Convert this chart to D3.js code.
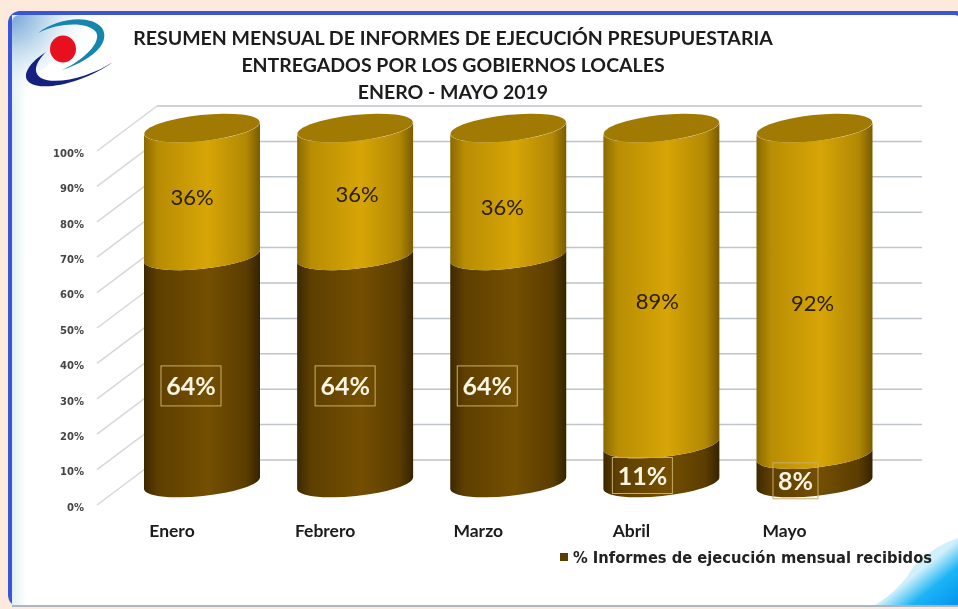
<!DOCTYPE html>
<html>
<head>
<meta charset="utf-8">
<script src="https://cdnjs.cloudflare.com/ajax/libs/d3/7.8.5/d3.min.js"></script>
<style>
html, body { margin: 0; padding: 0; background: #fdeadd; }
text { font-family: Lato, "Open Sans", sans-serif; }
svg { filter: blur(0.55px); }
</style>
</head>
<body>
<div id="chart"></div>
<script>
var titleLines = ["RESUMEN MENSUAL DE INFORMES DE EJECUCIÓN PRESUPUESTARIA",
                  "ENTREGADOS POR LOS GOBIERNOS LOCALES",
                  "ENERO - MAYO 2019"]
var months = ["Enero", "Febrero", "Marzo", "Abril", "Mayo"]
var received = [64, 64, 64, 11, 8]
var pending = [36, 36, 36, 89, 92]
var yTicks = [0, 10, 20, 30, 40, 50, 60, 70, 80, 90, 100]
var legendLabel = "% Informes de ejecución mensual recibidos"

var width = 958, height = 609

var svg = d3.select("#chart").append("svg")
  .attr("width", width)
  .attr("height", height)
  .style("display", "block")

var defs = svg.append("defs")

function cylGradient(id, edge, mid, edge2) {
  var g = defs.append("linearGradient").attr("id", id)
  g.append("stop").attr("offset", "0%").attr("stop-color", edge)
  g.append("stop").attr("offset", "12%").attr("stop-color", d3.interpolateRgb(edge, mid)(0.6))
  g.append("stop").attr("offset", "55%").attr("stop-color", mid)
  g.append("stop").attr("offset", "88%").attr("stop-color", d3.interpolateRgb(edge2, mid)(0.6))
  g.append("stop").attr("offset", "100%").attr("stop-color", edge2)
}
cylGradient("upper", "#8a6a00", "#d7a506", "#7a5c00")
cylGradient("lower", "#3c2800", "#744f02", "#352300")

var tl = defs.append("radialGradient").attr("id", "cornerTL")
  .attr("gradientUnits", "userSpaceOnUse").attr("cx", 8).attr("cy", 12).attr("r", 90)
tl.append("stop").attr("offset", "0%").attr("stop-color", "#6f9fd8")
tl.append("stop").attr("offset", "45%").attr("stop-color", "#c4dcee")
tl.append("stop").attr("offset", "100%").attr("stop-color", "#ffffff").attr("stop-opacity", 0)

var br = defs.append("linearGradient").attr("id", "cornerBR")
  .attr("gradientUnits", "userSpaceOnUse")
  .attr("x1", 958).attr("y1", 609).attr("x2", 924).attr("y2", 567)
br.append("stop").attr("offset", "0%").attr("stop-color", "#0090ee")
br.append("stop").attr("offset", "60%").attr("stop-color", "#1cb4f5")
br.append("stop").attr("offset", "100%").attr("stop-color", "#d0f0fb")

var left = defs.append("linearGradient").attr("id", "leftEdge")
left.append("stop").attr("offset", "0%").attr("stop-color", "#dff0f2")
left.append("stop").attr("offset", "100%").attr("stop-color", "#ffffff")

// panel
svg.append("rect").attr("x", 8).attr("y", 11).attr("width", 960).attr("height", 596)
  .attr("rx", 12).attr("fill", "#3a55d6")
svg.append("rect").attr("x", 12).attr("y", 15).attr("width", 950).attr("height", 590)
  .attr("rx", 8).attr("fill", "#ffffff")
svg.append("rect").attr("x", 12).attr("y", 15).attr("width", 14).attr("height", 590)
  .attr("fill", "url(#leftEdge)")
svg.append("path").attr("d", "M12 105V23Q12 15 20 15H100V40Q50 50 12 105Z")
  .attr("fill", "url(#cornerTL)")
svg.append("path").attr("d", "M958 538V605H875Q900 590 915 565Q935 545 958 538Z")
  .attr("fill", "url(#cornerBR)")
svg.append("rect").attr("x", 12).attr("y", 605).attr("width", 946).attr("height", 2).attr("fill", "#aeb4bd")

// logo
var logo = svg.append("g")
logo.append("path")
  .attr("d", "M38 33C58 18 90 14 102 28C110 40 98 58 62 70C84 60 102 42 96 32C88 22 60 22 38 33Z")
  .attr("fill", "#1585ad")
logo.append("path")
  .attr("d", "M46 52C30 62 20 76 30 83C44 92 86 82 113 62C92 76 56 86 41 78C32 72 36 62 46 52Z")
  .attr("fill", "#16207f")
logo.append("ellipse").attr("cx", 63).attr("cy", 49).attr("rx", 13).attr("ry", 13.5).attr("fill", "#e8101f")

// title
svg.selectAll(".title").data(titleLines).enter().append("text")
  .attr("class", "title")
  .attr("x", 453)
  .attr("y", function(d, i) { return 44.5 + i * 27 })
  .attr("text-anchor", "middle")
  .attr("font-size", 19.5)
  .attr("font-weight", 700)
  .attr("fill", "#1c1c1c")
  .text(function(d) { return d })

// scales: the back wall and the front edge are offset like in the 3d chart
var x = d3.scalePoint().domain(months).range([202, 814.5])
var yFront = d3.scaleLinear().domain([0, 100]).range([505, 151])
var yBack = d3.scaleLinear().domain([0, 100]).range([460, 106])
var yCyl = d3.scaleLinear().domain([0, 100]).range([483, 128])
var rx = 58, ry = 13, tilt = 6 / 58

var gridColor = "#bfc3ca"
var grid = svg.append("g")
grid.selectAll(".diag").data(yTicks).enter().append("line")
  .attr("x1", 97).attr("x2", 157)
  .attr("y1", function(d) { return yFront(d) })
  .attr("y2", function(d) { return yBack(d) })
  .attr("stroke", "#d6d8dc").attr("stroke-width", 1.5)
grid.selectAll(".wall").data(yTicks).enter().append("line")
  .attr("x1", 157).attr("x2", 922)
  .attr("y1", function(d) { return yBack(d) })
  .attr("y2", function(d) { return yBack(d) })
  .attr("stroke", gridColor).attr("stroke-width", 1.5)

var yAxis = svg.append("g")
  .attr("transform", "translate(84,2)")
  .call(d3.axisLeft(yFront).tickValues(yTicks).tickSize(0).tickPadding(0)
    .tickFormat(function(d) { return d + "%" }))
yAxis.select(".domain").remove()
yAxis.selectAll("text")
  .attr("font-size", 10).attr("font-weight", 700).attr("fill", "#444")
  .style("font-family", "'DejaVu Sans', sans-serif")

// band of a cylinder between two values, with tilted elliptic ends
function band(cx, v0, v1) {
  var y0 = yCyl(v0), y1 = yCyl(v1)
  return "M" + (cx - rx) + "," + (y1 + rx * tilt)
    + "A" + rx + "," + ry + " -6 0 0 " + (cx + rx) + "," + (y1 - rx * tilt)
    + "L" + (cx + rx) + "," + (y0 - rx * tilt)
    + "A" + rx + "," + ry + " -6 0 1 " + (cx - rx) + "," + (y0 + rx * tilt) + "Z"
}

var bars = svg.selectAll(".bar").data(months).enter().append("g").attr("class", "bar")
bars.append("path")
  .attr("d", function(d, i) { return band(x(d), 0, received[i]) })
  .attr("fill", "url(#lower)")
bars.append("path")
  .attr("d", function(d, i) { return band(x(d), received[i], received[i] + pending[i]) })
  .attr("fill", "url(#upper)")
bars.append("ellipse")
  .attr("transform", function(d) { return "translate(" + x(d) + "," + yCyl(100) + ") rotate(-6)" })
  .attr("rx", rx).attr("ry", ry)
  .attr("fill", "#a07a02")

// the data labels sit off-centre in the reference
var upperNudge = [[-10, 8], [2, 5], [-6, 18], [-4, 17], [-2, 14]]
var lowerNudge = [[-11, 16.5], [-10, 16.5], [-21, 16.5], [-19, 12], [-19, 12]]

bars.append("text")
  .attr("x", function(d, i) { return x(d) + upperNudge[i][0] })
  .attr("y", function(d, i) { return yCyl(received[i] + pending[i] / 2) + upperNudge[i][1] })
  .attr("text-anchor", "middle")
  .attr("dominant-baseline", "middle")
  .attr("font-size", 22)
  .attr("fill", "#2a2000")
  .text(function(d, i) { return pending[i] + "%" })

var lowLabels = bars.append("g")
  .attr("transform", function(d, i) {
    return "translate(" + (x(d) + lowerNudge[i][0]) + "," + (yCyl(received[i] / 2) + lowerNudge[i][1]) + ")"
  })
lowLabels.append("rect")
  .attr("x", function(d, i) { return received[i] < 10 ? -22.5 : -30 })
  .attr("width", function(d, i) { return received[i] < 10 ? 45 : 60 })
  .attr("y", function(d, i) { return received[i] > 50 ? -20 : -18 })
  .attr("height", function(d, i) { return received[i] > 50 ? 40 : 36 })
  .attr("fill", "none").attr("stroke", "#c9ae6a").attr("stroke-width", 1)
lowLabels.append("text")
  .attr("y", 3)
  .attr("text-anchor", "middle")
  .attr("dominant-baseline", "middle")
  .attr("font-size", 25).attr("font-weight", 700)
  .attr("fill", "#fbf4e2")
  .text(function(d, i) { return received[i] + "%" })

// category labels are shifted to the front edge
svg.selectAll(".cat").data(months).enter().append("text")
  .attr("class", "cat")
  .attr("x", function(d) { return x(d) - 30 })
  .attr("y", 537)
  .attr("text-anchor", "middle")
  .attr("font-size", 17.5).attr("font-weight", 700).attr("fill", "#1c1c1c")
  .text(function(d) { return d })

// legend
svg.append("rect").attr("x", 560).attr("y", 553).attr("width", 8).attr("height", 8).attr("fill", "#5a3d00")
svg.append("text")
  .attr("x", 573).attr("y", 563)
  .attr("font-size", 15).attr("font-weight", 700).attr("fill", "#222")
  .style("font-family", "'DejaVu Sans', sans-serif")
  .attr("textLength", 359)
  .attr("lengthAdjust", "spacingAndGlyphs")
  .text(legendLabel)
</script>
</body>
</html>
